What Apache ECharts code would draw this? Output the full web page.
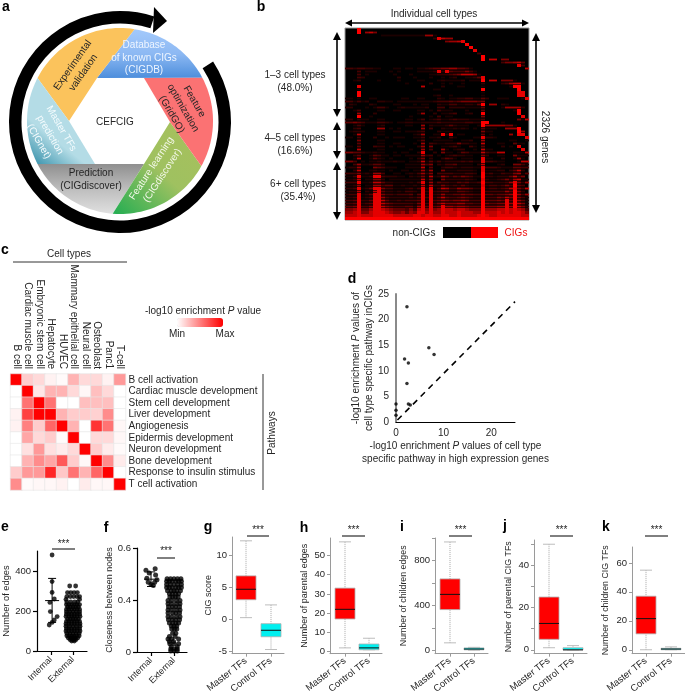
<!DOCTYPE html>
<html><head><meta charset="utf-8">
<style>html,body{margin:0;padding:0;background:#fff}#c{width:685px;height:696px}</style>
<script src="https://cdn.jsdelivr.net/npm/echarts@6/dist/echarts.min.js"></script>
</head><body><div id="c"></div>
<script>
// ---------- DATA ----------
const bRows = [
"0009000000 0000000000 0000000000 0000000000 000000",
"0009067500 0000000000 0000000000 0000000000 000000",
"0000000001 1111111111 6610000000 0000000000 000000",
"0000000000 0000000000 0028766000 0000000000 000000",
"0000000000 0000000000 0000056678 0000000000 000000",
"0000000000 0000000000 0000000000 9000000000 000000",
"0000000000 0000000000 0000000000 0900000000 000000",
"0000000000 0000000000 0000000000 0080000000 000000",
"0000000000 0000000000 0000000000 0003000000 000000",
"0000000000 0000000000 0000000000 0000900000 000000",
"0000000000 0000000000 0000000000 0000907705 500000",
"0000000000 0000000000 0000000000 0000000003 556740",
"0000000000 0000000000 0000000000 0000000000 000830",
"3323322110 0011011011 2344556644 3100000000 000007",
"0003011100 0101000011 1128284333 5310000000 000000",
"0003010000 0010001000 0112223457 7761000000 000000",
"0003200000 0002000100 0100101200 1124800000 000000",
"0012000010 0001000011 0001211112 0111907705 551000",
"0000000000 0000010000 0200101001 0000200002 367710",
"0008000000 0000000007 0000200011 0000100000 019900",
"0001000000 0000000000 0011000000 0000900000 000900",
"0009000000 0000000000 0000000000 0000100000 000880",
"0009000000 0000000000 0012001000 0000100000 000880",
"1101001100 0000110011 0002101122 3311420011 100018",
"3313120022 1101111111 1123334345 5554500000 000000",
"0210002100 0011000101 1002113311 2214906602 100000",
"2200010133 1001211111 2003302222 1111400001 666620",
"0013000011 0011000011 0103111000 1000400000 001900",
"0006000200 0000000016 0020112300 1200900000 000900",
"0009001000 0000001000 0103011000 0000500000 000080",
"2202110011 0000011013 0123112322 2111300000 000517",
"4454311133 2101122112 2223222222 3322990001 000000",
"0013100012 0000011006 0211124211 1001966666 551000",
"0023000066 0101000006 0300211212 1010411100 666900",
"0122100011 0011011123 0002111000 0000511000 000960",
"0017000011 0000000126 0011828011 0000401000 060880",
"1103000200 1011100113 0112003100 0011822100 000008",
"0005000011 0000000014 0011111001 1200600000 011001",
"0004000011 0011000106 0321122252 2110700011 004110",
"1104000322 0101100026 0500112310 0310400002 010800",
"0007000011 0000001006 0300610122 0010711000 000080",
"5544211211 0010110028 0020511014 3111732277 001117",
"0024001431 1011011116 2301012322 1100520011 005111",
"0017001421 0100001025 0200243101 1100811002 001610",
"5530101121 1121101127 1413122223 2311833211 000177",
"0036112442 0000011116 3502133411 1102700012 005531",
"1226000543 1110011117 0400233212 2211833321 114433",
"0027001211 0100110116 1600511122 2210811122 024720",
"3335121663 0011012136 2503333222 3320923113 225614",
"1138112883 2221102125 1712642435 4311922122 247350",
"1127011552 0111111117 1500522222 3210821123 526711",
"3338112774 2211112138 1614332243 4223933222 368526",
"1126011663 4411211217 1722532324 2111823323 539430",
"2238124885 3311123138 2813763365 5422923323 478537",
"1227021784 2212133218 2823442244 3211933333 649520",
"2338124885 3323334148 2823633445 4433944344 569636",
"2238123886 3222223248 3824743345 4322933354 759531",
"3348224887 4223233348 2834654556 5333944454 849641",
"3348234887 5433333258 3835755566 4433954455 869751",
"4458335887 5433344268 4845866566 5444955566 869752",
"5568446887 6544435378 5856877677 6555966677 878763",
"6678557888 7655646588 6866877787 7766977787 878875",
"7778777888 8877777887 8877887787 7778987788 888877",
"9999999999 9999999999 9999999999 9999999999 999999"
];
const bShades = ['#000000','#1c0000','#300000','#460000','#5e0000','#7c0000','#9c0000','#c00000','#e40000','#ff0000'];

const cCellTypes = ["B cell","Cardiac muscle cell","Embryonic stem cell","Hepatocyte","HUVEC","Mammary epithelial cell","Neural cell","Osteoblast","Panc1","T-cell"];
const cPathways = ["B cell activation","Cardiac muscle development","Stem cell development","Liver development","Angiogenesis","Epidermis development","Neuron development","Bone development","Response to insulin stimulus","T cell activation"];
const cValues = [
[1,.2,.15,.05,.02,.3,.15,.15,.05,.4],
[0,1,.1,.3,.3,.15,.03,.25,.15,0],
[0,.55,1,.55,0,0,.25,.25,.25,0],
[.05,.75,1,1,.3,.2,.2,.18,.45,0],
[.05,.5,.2,.6,1,.3,0,.8,.55,.03],
[0,.35,.15,.2,.02,1,0,.15,.15,.03],
[0,.12,.4,.12,.08,.15,1,.2,.08,.02],
[0,.3,.45,.35,.65,.2,.03,1,.45,.08],
[.2,.4,.4,.85,.22,.55,.3,.6,1,0],
[.45,.02,.03,.03,.05,0,.08,.03,.03,1]
];

const dPoints = [[2.3,22.5],[6.9,14.5],[8,13.2],[1.8,12.3],[2.6,11.5],[2.3,7.5],[2.6,3.5],[0,3.5],[0,2.3],[0,1.3],[3,3.3]];
const dDiagonal = [[0.3,0.4],[25,23.5]];

const panelCats = ["Internal","External"];
const boxCats = ["Master TFs","Control TFs"];

const eInternal = [[1.05,480],[1.05,347],[1.05,293],[1.15,260],[.95,243],[.97,197],[1.28,172],[1.15,155],[1.05,143],[.92,130]];
const eInternalBar = [1.05,143,252,363];
const eExternalRows = [
[325,-.15,.12],[292,-.25,-.1,.05,.2],[272,-.28,-.12,.03,.18,.3],[258,-.32,.3],[245,-.28,-.1,.08,.22],
[232,-.3,-.18,-.06,.06,.18,.3],[220,-.25,-.12,0,.12,.25],[208,-.3,-.18,-.06,.06,.18,.3],[196,-.3,-.15,0,.15,.3],
[184,-.3,-.18,-.06,.06,.18,.3],[172,-.32,-.18,-.06,.06,.18,.32],[160,-.25,-.12,0,.12,.25],[148,-.3,-.18,-.06,.06,.18,.3],
[136,-.32,-.18,-.06,.06,.18,.32],[124,-.32,-.16,0,.16,.32],[112,-.3,-.18,-.06,.06,.18,.3],[100,-.32,-.18,-.06,.06,.18,.32],
[88,-.28,-.14,0,.14,.28],[76,-.28,-.16,-.05,.05,.16,.28],[66,-.22,-.1,0,.1,.22],[57,-.14,-.04,.06,.14],[50,-.06,.06]
];

const fTickLabels = ["0","0.4","0.6"];
const fInternal = [[.78,1.57],[1.18,1.6],[.92,1.52],[1.2,1.48],[.82,1.42],[1.26,1.39],[.88,1.34],[1.0,1.3],[1.1,1.28],[1.16,1.34]];
const fInternalBar = [1,1.26,1.4,1.54];
const fExternalRows = [
[1.41,-.3,-.15,0,.15,.3],[1.36,-.32,-.2,-.08,.08,.2,.32],[1.3,-.32,-.16,0,.16,.32],[1.24,-.32,-.2,-.08,.08,.2,.32],[1.18,-.28,-.12,0,.12,.28],[1.12,-.2,-.07,.07,.2],
[1.06,-.18,-.06,.06,.18],[.99,-.26,-.1,.1,.26],[.93,-.26,-.1,.1,.26],[.87,-.24,-.07,.07,.24],[.81,-.26,-.1,.1,.26],[.75,-.26,-.06,.08,.24],[.68,-.26,-.1,.1,.26],[.62,-.24,-.07,.07,.24],[.56,-.2,-.06,.08,.2],
[.5,-.12,0,.12],[.44,-.1,.02,.12],[.36,-.06,.08],[.3,-.2,.05],[.25,-.26,-.1,.2],[.2,-.2,-.02],[.16,-.18,0,.2],[.1,-.12,.14],[.06,-.14,0,.14],[.02,-.14,0,.14]
];

// [low whisker, Q1, median, Q3, high whisker]
const gMaster=[.25,3.06,4.7,6.8,12.3], gControl=[-4.75,-2.75,-1.73,-.7,2.25];
const hMaster=[2,17,22,33,57], hControl=[1,1,2,4,7];
const iMaster=[70,365,500,637,965], iControl=[5,8,15,25,30];
const jMaster=[1,5,12.5,25,50], jControl=[0,0,0,1,2];
const kMaster=[0,11,21.5,37,55], kControl=[0,0,.5,1,2];

// ---------- HELPERS ----------
const FONT='"Liberation Sans",Arial,sans-serif', INK='#262626';
const graphics=[];
const T=(text,x,y,o={})=>graphics.push({type:'text',x,y,rotation:(o.rot||0)*Math.PI/180,z:20,silent:true,style:Object.assign({
  text,x:0,y:0,align:o.align||'center',verticalAlign:'middle',fill:o.fill||INK,font:`${o.weight||'normal'} ${o.size||10}px ${FONT}`,lineHeight:o.lh||13},o.extra||{})});
const L=(x1,y1,x2,y2,c='#000',w=1)=>graphics.push({type:'line',z:20,silent:true,shape:{x1,y1,x2,y2},style:{stroke:c,lineWidth:w}});
const P=(points,fill,z=15)=>graphics.push({type:'polygon',z,silent:true,shape:{points},style:{fill}});
function arrowV(x,y0,y1){L(x,y0+5,x,y1-5,'#000',1.6);P([[x,y0],[x-4,y0+8],[x+4,y0+8]],'#000',20);P([[x,y1],[x-4,y1-8],[x+4,y1-8]],'#000',20);}
function arrowH(y,x0,x1){L(x0+5,y,x1-5,y,'#000',1.6);P([[x0,y],[x0+7,y-3.5],[x0+7,y+3.5]],'#000',20);P([[x1,y],[x1-7,y-3.5],[x1-7,y+3.5]],'#000',20);}

// panel a
const CX=120,CY=121,R=93;
function seg(a0,a1,inner){
  const pts=[];const n=30;
  for(let i=0;i<=n;i++){const a=(a0+(a1-a0)*i/n)*Math.PI/180;pts.push([CX+R*Math.cos(a),CY+R*Math.sin(a)]);}
  return pts.concat(inner);
}
const hex={tl:[97,78],tr:[144,78],r:[170,122],br:[144,164],bl:[95,164],l:[69,121]};
const grad=(x,y,x2,y2,stops)=>({type:'linear',x,y,x2,y2,colorStops:stops.map((c,i)=>({offset:i/(stops.length-1),color:c}))});
P(seg(-27.8,-81,[hex.tl]),grad(0,0,0,1,['#a3c9fb','#8db9f3','#4d8edc']));
P(seg(-81,-152.5,[hex.l,hex.tl]),'#fbc35c');
P(seg(-152.5,-207.5,[hex.bl,hex.l]),grad(1,0,0,1,['#cfe9ef','#b4dce6','#b4dce6','#2b8aa5']));
P(seg(152.5,94.5,[hex.br,hex.bl]),grad(0,0,0,1,['#8f8f8f','#bdbdbd','#e0e0e0']));
P(seg(94.5,29,[hex.r,hex.br]),grad(1,0,0,1,['#a8c05c','#9fc160','#22ad52']));
P(seg(29,-27.8,[hex.tr,hex.r]),'#fb7273');
graphics.push({type:'sector',z:16,silent:true,shape:{cx:120,cy:122,r:111,r0:98.5,startAngle:-33*Math.PI/180,endAngle:288*Math.PI/180,clockwise:true},style:{fill:'#000'}});
P([[154,7],[167,21],[153,33]],'#000',16);
T('CEFCIG',115,122);
T('Database\nof known CIGs\n(CIGDB)',144,58,{fill:'#eef5ff',lh:12.5});
T('Experimental\nvalidation',78,69,{rot:55});
T('Feature\noptimization\n(GridGO)',183,108,{rot:-60});
T('Feature learning\n(CIGdiscover)',157,172,{rot:57,fill:'#f4f8ea'});
T('Prediction\n(CIGdiscover)',91,180);
T('Master TFs\nprediction\n(CIGnet)',50,135,{rot:-60,fill:'#f4fbfd'});

// letters
[['a',6,7],['b',261,7],['c',5,250],['d',352,279],['e',5,527],['f',106,528],['g',208,527],['h',304,528],['i',402,527],['j',505,526],['k',606,527]]
 .forEach(a=>T(a[0],a[1],a[2],{size:14,weight:'bold',fill:'#000'}));

// panel b annotations
T('Individual cell types',434,14);
arrowH(23,345,529);
arrowV(337,32,117);arrowV(337,122,159);arrowV(337,162,220);arrowV(536,33,213);
T('1\u20133 cell types\n(48.0%)',295,82);
T('4\u20135 cell types\n(16.6%)',295,145);
T('6+ cell types\n(35.4%)',298,191);
T('2326 genes',545,137,{rot:-90});
T('non-CIGs',414,233);T('CIGs',516,233,{fill:'#f01010'});
graphics.push({type:'rect',z:20,silent:true,shape:{x:443,y:227,width:28,height:11},style:{fill:'#000'}});
graphics.push({type:'rect',z:20,silent:true,shape:{x:471,y:227,width:27,height:11},style:{fill:'#f00'}});

// panel c annotations
T('Cell types',69,254);
L(13,262,127,262,'#333',1);
L(263,374,263,490,'#333',1);
T('Pathways',272,433,{rot:90});
T('{a|-log10 enrichment }{i|P}{a| value}',203,311,{extra:{rich:{a:{font:`10px ${FONT}`,fill:INK},i:{font:`italic 10px ${FONT}`,fill:INK}}}});
T('Min',177,334);T('Max',225,334);

// significance marks
[[52,75,549,544],[157,175,558,551],[247,269,536,530],[342,365,536,530],[449,472,536,530],[550,573,536,530],[645,668,536,530]]
 .forEach(s=>{L(s[0],s[2],s[1],s[2],'#000',1);T('***',(s[0]+s[1])/2,s[3],{size:10});});

// ---------- CHART PIECES ----------
const grid=[],xAxis=[],yAxis=[],series=[];
function addGrid(left,top,width,height){grid.push({left,top,width,height,containLabel:false});return grid.length-1;}

const bIdx=addGrid(345,28,184,192);
Object.assign(grid[bIdx],{show:true,backgroundColor:'#000',borderColor:'#999',borderWidth:1});
xAxis.push({gridIndex:bIdx,type:'category',show:false,data:bRows[0].replace(/ /g,'').split('').map((_,i)=>i)});
yAxis.push({gridIndex:bIdx,type:'category',show:false,inverse:true,data:bRows.map((_,i)=>i)});
const bData=[];bRows.forEach((r,y)=>r.replace(/ /g,'').split('').forEach((v,x)=>{if(v!=='0')bData.push([x,y,+v]);}));
series.push({type:'custom',xAxisIndex:bIdx,yAxisIndex:bIdx,data:bData,encode:{x:0,y:1},progressive:0,silent:true,
  renderItem:(p,api)=>{
    const col=api.value(0),row=api.value(1),v=api.value(2),c=api.coord([col,row]),s=api.size([1,1]);
    const h=(v>=8||row>=60)?s[1]:s[1]*.6;
    return {type:'rect',shape:{x:c[0]-s[0]/2,y:c[1]-h/2,width:s[0],height:h},style:{fill:bShades[v]}};
  }});

const cIdx=addGrid(10.5,374,115,116);
xAxis.push({gridIndex:cIdx,type:'category',position:'top',data:cCellTypes,axisLine:{show:false},axisTick:{show:false},splitLine:{show:false},
  axisLabel:{rotate:90,interval:0,fontSize:10,fontFamily:FONT,color:INK,margin:5}});
yAxis.push({gridIndex:cIdx,type:'category',position:'right',inverse:true,data:cPathways,axisLine:{show:false},axisTick:{show:false},splitLine:{show:false},
  axisLabel:{interval:0,fontSize:10,fontFamily:FONT,color:INK,margin:3}});
const cData=[];cValues.forEach((r,y)=>r.forEach((v,x)=>cData.push([x,y,v])));
series.push({type:'heatmap',xAxisIndex:cIdx,yAxisIndex:cIdx,data:cData,itemStyle:{borderColor:'#e6e6e6',borderWidth:.6},emphasis:{disabled:true}});

const dIdx=addGrid(396,294,119,128);
const rich={a:{fontSize:10,fontFamily:FONT,color:INK,lineHeight:13},i:{fontSize:10,fontFamily:FONT,fontStyle:'italic',color:INK,lineHeight:13}};
xAxis.push({gridIndex:dIdx,type:'value',min:0,max:25,axisLine:{show:true,onZero:false,lineStyle:{color:'#000',width:1}},axisTick:{show:false},splitLine:{show:false},
  axisLabel:{customValues:[0,10,20],fontSize:10,fontFamily:FONT,color:INK,margin:6},
  name:'{a|-log10 enrichment }{i|P}{a| values of cell type}\n{a|specific pathway in high expression genes}',nameLocation:'middle',nameGap:18,nameTextStyle:{rich}});
yAxis.push({gridIndex:dIdx,type:'value',min:0,max:25,interval:5,axisLine:{show:true,onZero:false,lineStyle:{color:'#8a8a8a',width:2}},axisTick:{show:false},splitLine:{show:false},
  axisLabel:{fontSize:10,fontFamily:FONT,color:INK,margin:7},
  name:'{a|-log10 enrichment }{i|P}{a| values of}\n{a|cell type specific pathway inCIGs}',nameLocation:'middle',nameGap:20,nameRotate:90,nameTextStyle:{rich}});
series.push({type:'line',xAxisIndex:dIdx,yAxisIndex:dIdx,data:dDiagonal,symbol:'none',lineStyle:{color:'#000',width:1.6,type:[6,5]},z:2});
series.push({type:'scatter',xAxisIndex:dIdx,yAxisIndex:dIdx,data:dPoints,symbolSize:3.5,itemStyle:{color:'#000'},clip:false,z:3});

function twoCatAxis(idx,left,right,c1,c2,cats,ax){
  const u=c2-c1;
  xAxis.push({gridIndex:idx,type:'value',min:1-(c1-left)/u,max:2+(right-c2)/u,
    axisLine:{show:true,onZero:false,lineStyle:{color:ax.color,width:ax.width}},
    axisTick:{show:true,customValues:[1,2],length:ax.tickLen,lineStyle:{color:ax.color,width:ax.width}},splitLine:{show:false},
    axisLabel:{customValues:[1,2],formatter:v=>cats[Math.round(v)-1],rotate:ax.rotate,fontSize:ax.labelSize,fontFamily:FONT,color:INK,margin:ax.margin,hideOverlap:false,showMinLabel:true,showMaxLabel:true}});
}
function yAx(idx,min,max,ticks,labels,name,gap,ax,nameSize,fmt){
  yAxis.push({gridIndex:idx,type:'value',min,max,
    axisLine:{show:true,onZero:false,lineStyle:{color:ax.color,width:ax.width}},
    axisTick:{show:true,customValues:ticks,length:ax.tickLen,lineStyle:{color:ax.color,width:ax.width}},splitLine:{show:false},
    axisLabel:{customValues:labels,formatter:fmt,fontSize:ax.tickSize,fontFamily:FONT,color:INK,margin:ax.tickLen+2,showMinLabel:true,showMaxLabel:true},
    name,nameLocation:'middle',nameGap:gap,nameRotate:90,nameTextStyle:{fontSize:nameSize,fontFamily:FONT,color:INK}});
}
const flatten=(rows,c)=>rows.flatMap(r=>r.slice(1).map(o=>[c+o,r[0]]));
const errRender=(halfMean,halfCap)=>(p,api)=>{
  const x=api.value(0),lo=api.coord([x,api.value(1)]),m=api.coord([x,api.value(2)]),hi=api.coord([x,api.value(3)]);
  const s={stroke:'#000',lineWidth:1};
  const ln=(x1,y1,x2,y2)=>({type:'line',shape:{x1,y1,x2,y2},style:s});
  return {type:'group',children:[ln(lo[0],lo[1],hi[0],hi[1]),ln(m[0]-halfMean,m[1],m[0]+halfMean,m[1]),ln(lo[0]-halfCap,lo[1],lo[0]+halfCap,lo[1]),ln(hi[0]-halfCap,hi[1],hi[0]+halfCap,hi[1])]};
};
function swarm(idx,internal,bar,external,size){
  series.push({type:'custom',xAxisIndex:idx,yAxisIndex:idx,data:[bar],renderItem:errRender(7,4),encode:{x:0,y:[1,3]},z:3,clip:false});
  series.push({type:'scatter',xAxisIndex:idx,yAxisIndex:idx,data:internal,symbolSize:size,itemStyle:{color:'#000'},clip:false,z:4});
  series.push({type:'scatter',xAxisIndex:idx,yAxisIndex:idx,data:external,symbolSize:size,itemStyle:{color:'#000'},clip:false,z:4});
}
const blackAx={color:'#000',width:1.2,rotate:45,labelSize:9,margin:7,tickSize:9.5,tickLen:4};
const eIdx=addGrid(37,551,50,100);
twoCatAxis(eIdx,37,87,51,73,panelCats,blackAx);
yAx(eIdx,0,500,[0,200,400],[0,200,400],'Number of edges',24,blackAx,9.3);
swarm(eIdx,eInternal,eInternalBar,flatten(eExternalRows,2),4.8);
const fIdx=addGrid(137,548,50,104);
twoCatAxis(fIdx,137,187,151,174,panelCats,blackAx);
yAx(fIdx,0,2,[0,1,2],[0,1,2],'Closeness between nodes',21,blackAx,9,v=>fTickLabels[Math.round(v)]);
swarm(fIdx,fInternal,fInternalBar,flatten(fExternalRows,2),5);

const boxAx={color:'#9a9a9a',width:1,rotate:38,labelSize:9.5,margin:6,tickSize:9.5,tickLen:3};
const boxRender=(fill)=>(p,api)=>{
  const x=api.value(0),c=i=>api.coord([x,api.value(i)]);
  const lo=c(1),q1=c(2),m=c(3),q3=c(4),hi=c(5),w=10,cap=6;
  const dot={stroke:'#a8a8a8',lineWidth:1,lineDash:[1,1]},capS={stroke:'#bdbdbd',lineWidth:1},med={stroke:'#111',lineWidth:1};
  const ln=(x1,y1,x2,y2,s)=>({type:'line',shape:{x1,y1,x2,y2},style:s});
  return {type:'group',children:[
    ln(hi[0],hi[1],q3[0],q3[1],dot),ln(lo[0],lo[1],q1[0],q1[1],dot),
    ln(hi[0]-cap,hi[1],hi[0]+cap,hi[1],capS),ln(lo[0]-cap,lo[1],lo[0]+cap,lo[1],capS),
    {type:'rect',shape:{x:q3[0]-w,y:q3[1],width:2*w,height:q1[1]-q3[1]},style:{fill,stroke:'#b0b0b0',lineWidth:.8}},
    ln(m[0]-w,m[1],m[0]+w,m[1],med)]};
};
function boxPanel(left,right,top,bottom,c1,c2,yMin,yMax,ticks,labels,name,gap,nameSize,master,control){
  const idx=addGrid(left,top,right-left,bottom-top);
  twoCatAxis(idx,left,right,c1,c2,boxCats,boxAx);
  yAx(idx,yMin,yMax,ticks,labels,name,gap,boxAx,nameSize);
  [[1,master,'#ff0000'],[2,control,'#00f0f0']].forEach(b=>series.push({type:'custom',xAxisIndex:idx,yAxisIndex:idx,data:[[b[0]].concat(b[1])],
    renderItem:boxRender(b[2]),encode:{x:0,y:[1,5]},clip:false}));
}
boxPanel(232,284,537,656,246,271,-5.4,12.9,[-5,0,5,10],[-5,0,5,10],'CIG score',19,9,gMaster,gControl);
boxPanel(330,382,538,657,345,369,-1,59,[0,10,20,30,40,50],[0,10,20,30,40,50],'Number of parental edges',21,9,hMaster,hControl);
boxPanel(435,488,538,657,450,474,-26,1000,[0,200,400,600,800,1000],[0,400,800],'Number of children edges',27,8.8,iMaster,iControl);
boxPanel(534,587,540,658,549,573,-1.8,52,[0,10,20,30,40,50],[0,20,40],'Number of parental CIG TFs',21,8.8,jMaster,jControl);
boxPanel(632,685,547,658,646,671,-2.7,71,[0,20,40,60],[0,20,40,60],'Number of children CIG TFs',22,8.8,kMaster,kControl);

// ---------- OPTION ----------
const chart=echarts.init(document.getElementById('c'),null,{renderer:'canvas'});
chart.setOption({
  animation:false,backgroundColor:'#fff',tooltip:{show:false},
  textStyle:{fontFamily:FONT},
  grid,xAxis,yAxis,series,
  visualMap:[
    {type:'continuous',seriesIndex:1,min:0,max:1,show:true,orient:'horizontal',left:177,top:318,itemWidth:9,itemHeight:46,calculable:false,text:['',''],textGap:0,padding:0,showLabel:false,inRange:{color:['#ffffff','#ff0000']}}
  ],
  graphic:{elements:graphics}
});
</script></body></html>
